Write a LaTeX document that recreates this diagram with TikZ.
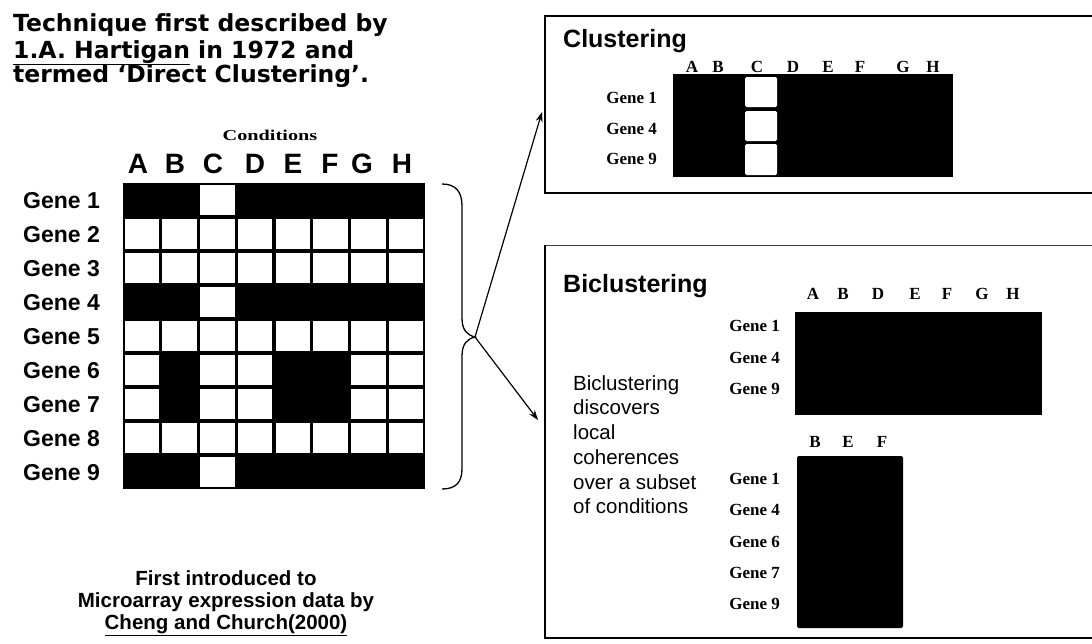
\documentclass[tikz,border=0pt]{standalone}
\usepackage{fontspec}
\setmainfont{Liberation Serif}
\newfontfamily\sansf{Liberation Sans}
\newfontfamily\verdf{DejaVu Sans}
\newfontfamily\widef[FakeStretch=1.35]{Liberation Serif}
\usetikzlibrary{arrows.meta}
\begin{document}
\begin{tikzpicture}[x=1pt,y=-1pt,
 hdr/.style={font=\verdf\bfseries\fontsize{23.5}{26}\selectfont, anchor=base west, inner sep=0pt},
 bot/.style={font=\sansf\bfseries\fontsize{20.5}{24}\selectfont, anchor=base, inner sep=0pt},
 collbl/.style={font=\sansf\bfseries\fontsize{28}{30}\selectfont, anchor=base, inner sep=0pt},
 genelbl/.style={font=\sansf\bfseries\fontsize{23}{24}\selectfont, anchor=base west, inner sep=0pt},
 ttl/.style={font=\sansf\bfseries\fontsize{25}{28}\selectfont, anchor=base west, inner sep=0pt},
 sletter/.style={font=\bfseries\fontsize{17}{18}\selectfont, anchor=base, inner sep=0pt},
 sgene/.style={font=\bfseries\fontsize{17}{18}\selectfont, anchor=base east, inner sep=0pt},
 desc/.style={font=\sansf\fontsize{20.5}{22}\selectfont, anchor=base west, inner sep=0pt},
 boxline/.style={line width=1.4pt},
 arr/.style={line width=1.2pt, -{Stealth[length=10pt,width=7pt]}},
]
\useasboundingbox[fill=white] (0,0) rectangle (1092,643);

% header text
\node[hdr] (h1) at (13,31) {Technique first described by};
\node[hdr] (h2) at (13,58) {\underline{1.A. Hartigan} in 1972 and};
\node[hdr] (h3) at (13,82) {termed ‘Direct Clustering’.};

% conditions
\node[anchor=base, inner sep=0pt, font=\widef\bfseries\fontsize{15}{16}\selectfont] (cond) at (270,140) {Conditions};

% column letters
\foreach \l/\x in {A/138,B/175,C/213,D/255,E/293,F/330,G/362,H/402}
  \node[collbl] (col\l) at (\x,173) {\l};

% main grid
\fill[black] (123,183) rectangle (425,489);
\foreach \r/\cols in {1/{3},2/{1,2,3,4,5,6,7,8},3/{1,2,3,4,5,6,7,8},4/{3},5/{1,2,3,4,5,6,7,8},6/{1,3,4,7,8},7/{1,3,4,7,8},8/{1,2,3,4,5,6,7,8},9/{3}}{
  \foreach \c in \cols {
    \fill[white] ({123+(\c-1)*37.75+1.6},{183+(\r-1)*34+1.6}) rectangle ({123+\c*37.75-1.6},{183+\r*34-1.6});
  }
}
% gene labels
\foreach \r in {1,...,9}
  \node[genelbl] (g\r) at (23,{183+(\r-0.5)*34+8}) {Gene \r};

% brace
\coordinate (tip) at (475,337);
\draw[line width=1.3pt] (442,184) .. controls (456,184) and (462,192) .. (462,206) -- (462,318) .. controls (462,330) and (467,335) .. (tip) .. controls (467,339) and (462,344) .. (462,356) -- (462,469) .. controls (462,482) and (456,489) .. (442,489);

% boxes
\draw[boxline] (1092,16) -- (545,16) -- (545,193) -- (1092,193);
\draw[line width=1pt, black!75] (1092,245) -- (545,245);
\draw[boxline] (545,245) -- (545,638) -- (1092,638);

\coordinate (clin) at (542,112);
\coordinate (biin) at (538,420);
\draw[arr] (tip) -- (clin);
\draw[arr] (tip) -- (biin);

% clustering box
\node[ttl] (ctitle) at (563,47) {Clustering};
\foreach \l/\x in {A/692,B/718,C/757,D/793,E/828,F/860,G/903,H/933}
  \node[sletter] (cc\l) at (\x,72) {\l};
\fill[black] (673,74) rectangle (953,177);
\fill[white, rounded corners=1.5pt] (745,77) rectangle (777,107);
\fill[white, rounded corners=1.5pt] (745,111) rectangle (777,141);
\fill[white, rounded corners=1.5pt] (745,144) rectangle (777,175);
\node[sgene] (cg1) at (657,103) {Gene 1};
\node[sgene] (cg4) at (657,134) {Gene 4};
\node[sgene] (cg9) at (657,164) {Gene 9};

% biclustering box
\node[ttl] (btitle) at (563,292) {Biclustering};
\foreach \l/\x in {A/813,B/843,D/878,E/915,F/947,G/982,H/1013}
  \node[sletter] (bc\l) at (\x,299) {\l};
\fill[black] (795,312) rectangle (1042,415);
\node[sgene] (bg1) at (780,331) {Gene 1};
\node[sgene] (bg4) at (780,363) {Gene 4};
\node[sgene] (bg9) at (780,394) {Gene 9};

\foreach \l/\x in {B/815,E/848,F/882}
  \node[sletter] (bb\l) at (\x,447) {\l};
\fill[black, rounded corners=2pt] (797,456) rectangle (903,628);
\foreach \g/\y in {1/484,4/515,6/547,7/578,9/609}
  \node[sgene] (bbg\g) at (780,\y) {Gene \g};

\node[desc] (d1) at (573,390) {Biclustering};
\node[desc] (d2) at (573,414) {discovers};
\node[desc] (d3) at (573,439) {local};
\node[desc] (d4) at (573,464) {coherences};
\node[desc] (d5) at (573,489) {over a subset};
\node[desc] (d6) at (573,513) {of conditions};

% bottom text
\node[bot] (b1) at (226,585) {First introduced to};
\node[bot] (b2) at (226,607) {Microarray expression data by};
\node[bot] (b3) at (226,629) {\underline{Cheng and Church(2000)}};
\end{tikzpicture}
\end{document}
